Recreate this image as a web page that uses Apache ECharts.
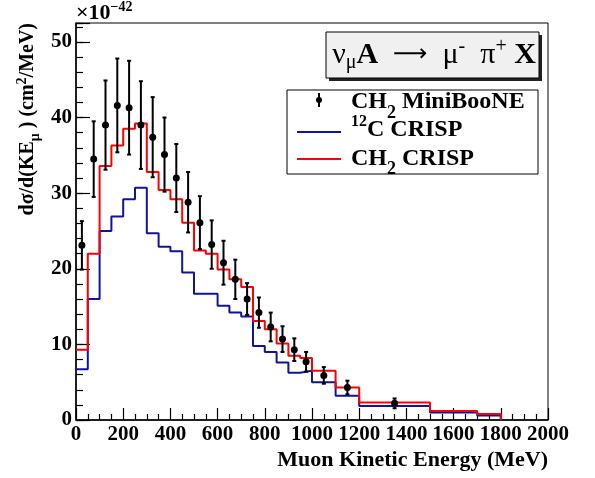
<!DOCTYPE html>
<html>
<head>
<meta charset="utf-8">
<script src="https://cdn.jsdelivr.net/npm/echarts@6/dist/echarts.min.js"></script>
<style>
html,body{margin:0;padding:0;background:#fff;}
#chart{width:595px;height:478px;}
</style>
</head>
<body>
<div id="chart"></div>
<script>
// ---- data ----
const mbEnergy = [25,75,125,175,225,275,325,375,425,475,525,575,625,675,725,775,825,875,925,975,1050,1150,1350];
const mbXsec   = [23.1,34.5,39.0,41.6,41.3,39.0,37.4,35.1,32.0,28.8,26.1,23.2,20.8,18.6,16.0,14.2,12.3,10.7,9.3,7.7,5.9,4.3,2.2];
const mbErr    = [3.2,5.0,5.9,6.2,6.2,5.8,5.3,4.9,4.5,4.0,3.5,3.2,2.9,2.6,2.1,2.0,1.9,1.7,1.5,1.3,1.1,0.9,0.65];

const binEdges = [0,50,100,150,200,250,300,350,400,450,500,550,600,650,700,750,800,850,900,950,1000,1100,1200,1500,1700,1800];
const c12Crisp = [6.7,16.0,25.0,26.9,29.2,30.7,24.7,22.9,22.3,19.5,16.7,16.7,15.1,14.2,13.7,9.8,9.0,7.6,6.25,6.5,5.0,3.2,1.85,1.0,0.6];
const ch2Crisp = [9.3,22.0,33.6,36.3,38.5,39.2,32.8,30.4,29.2,26.1,22.4,22.0,19.9,18.6,17.6,13.1,12.0,10.1,8.5,8.2,6.5,4.3,2.3,1.2,0.8];

const seriesNames = ['CH2 MiniBooNE', '12C CRISP', 'CH2 CRISP'];
const legendRich  = ['{b|CH}{sub|2}{b| MiniBooNE}', '{sup|12}{b|C CRISP}', '{b|CH}{sub|2}{b| CRISP}'];

const FONT = 'Liberation Serif';
const BLUE = '#10149c';
const RED = '#ff0000';

function histSteps(vals) {
  const d = [];
  for (let i = 0; i < vals.length; i++) d.push([binEdges[i], vals[i]]);
  d.push([binEdges[vals.length], vals[vals.length - 1]]);
  d.push([binEdges[vals.length], 0]);
  return d;
}
const mbPoints = mbEnergy.map((e, i) => [e, mbXsec[i]]);
const mbBars = mbEnergy.map((e, i) => [e, mbXsec[i], mbErr[i]]);

const chart = echarts.init(document.getElementById('chart'), null, {renderer: 'canvas'});

const tickLabel = {fontFamily: FONT, fontWeight: 'bold', fontSize: 21, color: '#000'};

const legendTextRich = {
  b: {fontFamily: FONT, fontWeight: 'bold', fontSize: 24, lineHeight: 24, fill: '#000'},
  sub: {fontFamily: FONT, fontWeight: 'bold', fontSize: 18, lineHeight: 24, height: 2, verticalAlign: 'bottom', fill: '#000'},
  sup: {fontFamily: FONT, fontWeight: 'bold', fontSize: 16, lineHeight: 24, height: 8, verticalAlign: 'top', fill: '#000'}
};

// legend (box, markers, text) drawn as graphic elements
const legendGraphics = [
  {type: 'rect', z: 100, shape: {x: 287, y: 90, width: 251, height: 84}, style: {fill: '#fff', stroke: '#000', lineWidth: 1}},
  {type: 'line', z: 101, shape: {x1: 319, y1: 93, x2: 319, y2: 107}, style: {stroke: '#000', lineWidth: 2}},
  {type: 'circle', z: 102, shape: {cx: 319, cy: 100, r: 3}, style: {fill: '#000'}},
  {type: 'line', z: 101, shape: {x1: 297, y1: 132, x2: 341, y2: 132}, style: {stroke: BLUE, lineWidth: 2}},
  {type: 'line', z: 101, shape: {x1: 297, y1: 159, x2: 341, y2: 159}, style: {stroke: RED, lineWidth: 2}},
  {type: 'text', z: 102, x: 351, y: 102, style: {text: legendRich[0], align: 'left', verticalAlign: 'middle', rich: legendTextRich}},
  {type: 'text', z: 102, x: 351, y: 130, style: {text: legendRich[1], align: 'left', verticalAlign: 'middle', rich: legendTextRich}},
  {type: 'text', z: 102, x: 351, y: 158.5, style: {text: legendRich[2], align: 'left', verticalAlign: 'middle', rich: legendTextRich}}
];

const option = {
  animation: false,
  backgroundColor: '#fff',
  grid: {left: 76, top: 23, right: 47, bottom: 58, show: true, borderColor: '#000', borderWidth: 1, backgroundColor: 'transparent'},
  xAxis: {
    type: 'value', min: 0, max: 2000, interval: 200,
    axisLine: {show: true, onZero: false, lineStyle: {color: '#000', width: 1.5}},
    axisTick: {show: true, inside: true, length: 12, lineStyle: {color: '#000', width: 1.2}},
    minorTick: {show: true, splitNumber: 4, length: 6, lineStyle: {color: '#000', width: 1.2}},
    axisLabel: Object.assign({margin: 4, formatter: v => String(v)}, tickLabel),
    splitLine: {show: false}
  },
  yAxis: [
    {
      type: 'value', min: 0, max: 52.5, interval: 10,
      axisLine: {show: true, onZero: false, lineStyle: {color: '#000', width: 1.5}},
      axisTick: {show: true, inside: true, length: 14, lineStyle: {color: '#000', width: 1.2}},
      axisLabel: Object.assign({margin: 4, formatter: v => (v <= 50 ? String(v) : '')}, tickLabel),
      splitLine: {show: false}
    },
    {
      type: 'value', min: 0, max: 52.5, interval: 2, position: 'left',
      axisLine: {show: false},
      axisTick: {show: true, inside: true, length: 7, lineStyle: {color: '#000', width: 1.2}},
      axisLabel: {show: false},
      splitLine: {show: false}
    }
  ],
  graphic: [
    // title box with shadow
    {type: 'rect', z: 100, shape: {x: 329, y: 35, width: 213, height: 46}, style: {fill: '#222'}},
    {type: 'rect', z: 101, shape: {x: 326, y: 32, width: 213, height: 46}, style: {fill: '#f0f0f0', stroke: '#000', lineWidth: 1}},
    {type: 'text', z: 102, x: 434, y: 55,
      style: {
        text: '{n|ν}{sub|μ}{b|A}{n|  }{ar|⟶}{n|  μ}{sup|-}{n|  π}{sup|+}{b| X}',
        align: 'center', verticalAlign: 'middle',
        rich: {
          n: {fontFamily: FONT, fontSize: 30, lineHeight: 30, fill: '#000'},
          b: {fontFamily: FONT, fontSize: 30, fontWeight: 'bold', lineHeight: 30, fill: '#000'},
          ar: {fontFamily: 'DejaVu Sans', fontSize: 24, lineHeight: 30, fill: '#000'},
          sub: {fontFamily: FONT, fontSize: 20, lineHeight: 30, height: 14, verticalAlign: 'bottom', fill: '#000'},
          sup: {fontFamily: FONT, fontSize: 20, lineHeight: 30, height: 14, verticalAlign: 'top', fill: '#000'}
        }
      }
    },
    // exponent label
    {type: 'text', z: 102, x: 76, y: 1,
      style: {
        text: '{a|×10}{s|−42}',
        align: 'left', verticalAlign: 'top',
        rich: {
          a: {fontFamily: FONT, fontSize: 22, fontWeight: 'bold', lineHeight: 24, fill: '#000'},
          s: {fontFamily: FONT, fontSize: 14, fontWeight: 'bold', lineHeight: 24, height: 12, verticalAlign: 'top', fill: '#000'}
        }
      }
    },
    // y axis title
    {type: 'text', z: 102, x: 28, y: 23, rotation: Math.PI / 2,
      style: {
        text: '{a|dσ/d(KE}{s|μ}{a| ) (cm}{p|2}{a|/MeV)}',
        align: 'right', verticalAlign: 'middle',
        rich: {
          a: {fontFamily: FONT, fontSize: 20, fontWeight: 'bold', lineHeight: 22, fill: '#000'},
          s: {fontFamily: FONT, fontSize: 14, fontWeight: 'bold', lineHeight: 22, height: 8, verticalAlign: 'bottom', fill: '#000'},
          p: {fontFamily: FONT, fontSize: 14, fontWeight: 'bold', lineHeight: 22, height: 10, verticalAlign: 'top', fill: '#000'}
        }
      }
    },
    // x axis title
    {type: 'text', z: 102, x: 548, y: 460,
      style: {
        text: 'Muon Kinetic Energy (MeV)',
        align: 'right', verticalAlign: 'middle',
        fontFamily: FONT, fontSize: 22, fontWeight: 'bold', fill: '#000'
      }
    }
  ].concat(legendGraphics),
  series: [
    {
      name: seriesNames[1], type: 'line', step: 'end', data: histSteps(c12Crisp),
      symbol: 'none', showSymbol: false, yAxisIndex: 0,
      lineStyle: {color: BLUE, width: 2}, itemStyle: {color: BLUE}, z: 2
    },
    {
      name: seriesNames[2], type: 'line', step: 'end', data: histSteps(ch2Crisp),
      symbol: 'none', showSymbol: false, yAxisIndex: 0,
      lineStyle: {color: RED, width: 2}, itemStyle: {color: RED}, z: 3
    },
    {
      name: seriesNames[0], type: 'custom', data: mbBars, yAxisIndex: 0, z: 4,
      itemStyle: {color: '#000', opacity: 1},
      renderItem: function (params, api) {
        const x = api.value(0), y = api.value(1), e = api.value(2);
        const top = api.coord([x, y + e]);
        const bot = api.coord([x, y - e]);
        const c = 2;
        const st = {stroke: '#000', lineWidth: 2, opacity: 1};
        return {
          type: 'group',
          children: [
            {type: 'line', shape: {x1: top[0], y1: top[1], x2: bot[0], y2: bot[1]}, style: st},
            {type: 'line', shape: {x1: top[0] - c, y1: top[1], x2: top[0] + c, y2: top[1]}, style: st},
            {type: 'line', shape: {x1: bot[0] - c, y1: bot[1], x2: bot[0] + c, y2: bot[1]}, style: st}
          ]
        };
      }
    },
    {
      name: seriesNames[0], type: 'scatter', data: mbPoints, yAxisIndex: 0, z: 5,
      symbol: 'circle', symbolSize: 7, itemStyle: {color: '#000', opacity: 1}
    }
  ]
};
chart.setOption(option);
</script>
</body>
</html>
